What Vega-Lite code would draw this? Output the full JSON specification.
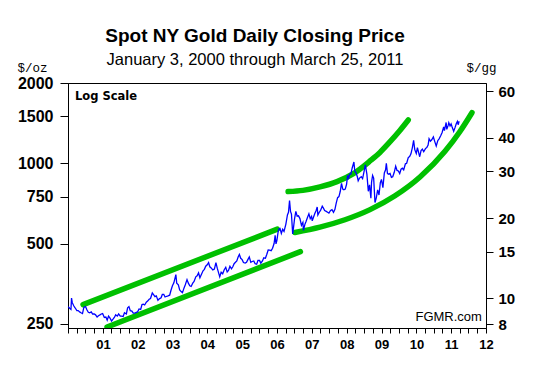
{
  "$schema": "https://vega.github.io/schema/vega-lite/v6.json",
  "width": 418,
  "height": 245,
  "autosize": {"type": "none"},
  "padding": {"left": 68, "top": 83, "right": 61, "bottom": 44},
  "background": "white",
  "config": {"view": {"stroke": "black", "strokeWidth": 1}, "font": "Liberation Sans"},
  "title": {
    "text": "Spot NY Gold Daily Closing Price",
    "subtitle": "January 3, 2000 through March 25, 2011",
    "anchor": "middle", "frame": "group", "dx": -22,
    "font": "Liberation Sans", "fontSize": 19, "fontWeight": "bold", "color": "black",
    "subtitleFont": "Liberation Sans", "subtitleFontSize": 16.5, "subtitleFontWeight": "normal", "subtitleColor": "black",
    "offset": -7, "subtitlePadding": 6
  },
  "datasets": {
    "gold": [
      {"d":"2000-01-03","p":290},{"d":"2000-01-18","p":286},{"d":"2000-02-01","p":283},{"d":"2000-02-07","p":312},{"d":"2000-02-15","p":300},{"d":"2000-03-01","p":292},{"d":"2000-03-15","p":287},{"d":"2000-04-03","p":280},{"d":"2000-04-17","p":280},{"d":"2000-05-02","p":277},{"d":"2000-05-16","p":275},{"d":"2000-06-01","p":273},{"d":"2000-06-15","p":288},{"d":"2000-07-03","p":290},{"d":"2000-07-17","p":282},{"d":"2000-08-01","p":276},{"d":"2000-08-15","p":275},{"d":"2000-09-01","p":277},{"d":"2000-09-15","p":272},{"d":"2000-10-02","p":272},{"d":"2000-10-16","p":270},{"d":"2000-11-01","p":265},{"d":"2000-11-15","p":268},{"d":"2000-12-01","p":270},{"d":"2000-12-15","p":272},{"d":"2000-12-29","p":273},
      {"d":"2001-01-16","p":264},{"d":"2001-02-01","p":265},{"d":"2001-02-15","p":258},{"d":"2001-03-01","p":267},{"d":"2001-03-15","p":263},{"d":"2001-04-02","p":256},{"d":"2001-04-17","p":260},{"d":"2001-05-01","p":264},{"d":"2001-05-15","p":270},{"d":"2001-06-01","p":267},{"d":"2001-06-15","p":272},{"d":"2001-07-02","p":267},{"d":"2001-07-16","p":267},{"d":"2001-08-01","p":266},{"d":"2001-08-15","p":275},{"d":"2001-09-04","p":272},{"d":"2001-09-17","p":287},{"d":"2001-10-01","p":290},{"d":"2001-10-15","p":280},{"d":"2001-11-01","p":279},{"d":"2001-11-15","p":274},{"d":"2001-12-03","p":274},{"d":"2001-12-17","p":276},{"d":"2001-12-31","p":277},
      {"d":"2002-01-15","p":284},{"d":"2002-02-01","p":283},{"d":"2002-02-15","p":295},{"d":"2002-03-01","p":296},{"d":"2002-03-15","p":294},{"d":"2002-04-01","p":301},{"d":"2002-04-15","p":304},{"d":"2002-05-01","p":309},{"d":"2002-05-15","p":311},{"d":"2002-06-03","p":326},{"d":"2002-06-14","p":322},{"d":"2002-07-01","p":316},{"d":"2002-07-15","p":318},{"d":"2002-08-01","p":306},{"d":"2002-08-15","p":310},{"d":"2002-09-03","p":313},{"d":"2002-09-16","p":322},{"d":"2002-10-01","p":322},{"d":"2002-10-15","p":315},{"d":"2002-11-01","p":317},{"d":"2002-11-15","p":318},{"d":"2002-12-02","p":320},{"d":"2002-12-16","p":334},{"d":"2002-12-31","p":347},
      {"d":"2003-01-15","p":356},{"d":"2003-02-05","p":382},{"d":"2003-02-14","p":355},{"d":"2003-03-03","p":350},{"d":"2003-03-17","p":335},{"d":"2003-04-01","p":330},{"d":"2003-04-15","p":327},{"d":"2003-05-01","p":340},{"d":"2003-05-15","p":350},{"d":"2003-06-02","p":366},{"d":"2003-06-16","p":355},{"d":"2003-07-01","p":347},{"d":"2003-07-15","p":345},{"d":"2003-08-01","p":355},{"d":"2003-08-15","p":360},{"d":"2003-09-02","p":375},{"d":"2003-09-16","p":378},{"d":"2003-10-01","p":388},{"d":"2003-10-15","p":372},{"d":"2003-11-03","p":385},{"d":"2003-11-17","p":395},{"d":"2003-12-01","p":400},{"d":"2003-12-15","p":411},{"d":"2003-12-31","p":416},
      {"d":"2004-01-14","p":424},{"d":"2004-01-27","p":409},{"d":"2004-02-10","p":405},{"d":"2004-02-27","p":398},{"d":"2004-03-15","p":401},{"d":"2004-03-31","p":424},{"d":"2004-04-14","p":404},{"d":"2004-05-10","p":375},{"d":"2004-05-25","p":390},{"d":"2004-06-10","p":385},{"d":"2004-06-25","p":398},{"d":"2004-07-12","p":407},{"d":"2004-07-27","p":391},{"d":"2004-08-10","p":396},{"d":"2004-08-25","p":411},{"d":"2004-09-10","p":402},{"d":"2004-09-24","p":409},{"d":"2004-10-08","p":420},{"d":"2004-10-22","p":425},{"d":"2004-11-05","p":430},{"d":"2004-11-19","p":445},{"d":"2004-12-02","p":455},{"d":"2004-12-16","p":440},{"d":"2004-12-31","p":435},
      {"d":"2005-01-14","p":424},{"d":"2005-02-01","p":422},{"d":"2005-02-15","p":425},{"d":"2005-03-01","p":435},{"d":"2005-03-16","p":445},{"d":"2005-04-01","p":425},{"d":"2005-04-15","p":428},{"d":"2005-05-02","p":430},{"d":"2005-05-16","p":420},{"d":"2005-06-01","p":418},{"d":"2005-06-15","p":432},{"d":"2005-07-01","p":432},{"d":"2005-07-15","p":422},{"d":"2005-08-01","p":430},{"d":"2005-08-15","p":442},{"d":"2005-09-01","p":440},{"d":"2005-09-15","p":455},{"d":"2005-09-30","p":473},{"d":"2005-10-14","p":472},{"d":"2005-10-31","p":470},{"d":"2005-11-15","p":480},{"d":"2005-12-01","p":500},{"d":"2005-12-12","p":537},{"d":"2005-12-21","p":498},{"d":"2005-12-30","p":513},
      {"d":"2006-01-13","p":555},{"d":"2006-01-23","p":568},{"d":"2006-02-01","p":570},{"d":"2006-02-15","p":545},{"d":"2006-03-01","p":565},{"d":"2006-03-15","p":555},{"d":"2006-04-03","p":590},{"d":"2006-04-20","p":640},{"d":"2006-05-01","p":655},{"d":"2006-05-12","p":725},{"d":"2006-05-22","p":660},{"d":"2006-06-01","p":645},{"d":"2006-06-14","p":543},{"d":"2006-06-23","p":575},{"d":"2006-07-03","p":617},{"d":"2006-07-17","p":660},{"d":"2006-07-31","p":633},{"d":"2006-08-14","p":635},{"d":"2006-08-29","p":620},{"d":"2006-09-14","p":585},{"d":"2006-09-29","p":600},{"d":"2006-10-05","p":560},{"d":"2006-10-20","p":590},{"d":"2006-11-01","p":605},{"d":"2006-11-15","p":625},{"d":"2006-12-01","p":646},{"d":"2006-12-15","p":620},{"d":"2006-12-29","p":632},
      {"d":"2007-01-05","p":608},{"d":"2007-01-18","p":627},{"d":"2007-02-01","p":648},{"d":"2007-02-15","p":665},{"d":"2007-02-26","p":685},{"d":"2007-03-05","p":640},{"d":"2007-03-20","p":655},{"d":"2007-04-02","p":665},{"d":"2007-04-20","p":690},{"d":"2007-05-01","p":680},{"d":"2007-05-15","p":665},{"d":"2007-06-01","p":660},{"d":"2007-06-15","p":655},{"d":"2007-06-29","p":650},{"d":"2007-07-16","p":665},{"d":"2007-07-31","p":670},{"d":"2007-08-16","p":655},{"d":"2007-08-31","p":672},{"d":"2007-09-14","p":710},{"d":"2007-09-28","p":743},{"d":"2007-10-12","p":750},{"d":"2007-10-26","p":785},{"d":"2007-11-08","p":841},{"d":"2007-11-21","p":800},{"d":"2007-12-03","p":795},{"d":"2007-12-17","p":800},{"d":"2007-12-31","p":834},
      {"d":"2008-01-11","p":900},{"d":"2008-01-22","p":880},{"d":"2008-02-01","p":910},{"d":"2008-02-14","p":910},{"d":"2008-02-28","p":960},{"d":"2008-03-17","p":1011},{"d":"2008-03-26","p":935},{"d":"2008-04-08","p":920},{"d":"2008-04-22","p":890},{"d":"2008-05-01","p":860},{"d":"2008-05-15","p":880},{"d":"2008-06-02","p":890},{"d":"2008-06-16","p":875},{"d":"2008-07-01","p":930},{"d":"2008-07-15","p":986},{"d":"2008-07-31","p":910},{"d":"2008-08-15","p":785},{"d":"2008-08-28","p":830},{"d":"2008-09-11","p":740},{"d":"2008-09-18","p":850},{"d":"2008-09-29","p":900},{"d":"2008-10-10","p":880},{"d":"2008-10-24","p":712},{"d":"2008-11-06","p":740},{"d":"2008-11-21","p":795},{"d":"2008-12-05","p":760},{"d":"2008-12-19","p":845},{"d":"2008-12-31","p":870},
      {"d":"2009-01-15","p":810},{"d":"2009-01-30","p":920},{"d":"2009-02-12","p":945},{"d":"2009-02-20","p":1000},{"d":"2009-03-04","p":915},{"d":"2009-03-18","p":910},{"d":"2009-03-31","p":916},{"d":"2009-04-14","p":885},{"d":"2009-04-28","p":890},{"d":"2009-05-14","p":925},{"d":"2009-05-29","p":975},{"d":"2009-06-12","p":940},{"d":"2009-06-26","p":935},{"d":"2009-07-10","p":915},{"d":"2009-07-24","p":950},{"d":"2009-08-07","p":958},{"d":"2009-08-21","p":945},{"d":"2009-09-08","p":995},{"d":"2009-09-21","p":1000},{"d":"2009-10-08","p":1050},{"d":"2009-10-22","p":1060},{"d":"2009-11-05","p":1085},{"d":"2009-11-20","p":1145},{"d":"2009-12-03","p":1218},{"d":"2009-12-15","p":1125},{"d":"2009-12-31","p":1088},
      {"d":"2010-01-12","p":1145},{"d":"2010-01-28","p":1085},{"d":"2010-02-05","p":1058},{"d":"2010-02-19","p":1115},{"d":"2010-03-05","p":1130},{"d":"2010-03-19","p":1105},{"d":"2010-04-06","p":1135},{"d":"2010-04-20","p":1145},{"d":"2010-05-04","p":1170},{"d":"2010-05-14","p":1235},{"d":"2010-05-28","p":1210},{"d":"2010-06-11","p":1225},{"d":"2010-06-28","p":1255},{"d":"2010-07-13","p":1205},{"d":"2010-07-28","p":1160},{"d":"2010-08-13","p":1215},{"d":"2010-08-27","p":1235},{"d":"2010-09-14","p":1270},{"d":"2010-09-28","p":1305},{"d":"2010-10-14","p":1370},{"d":"2010-10-22","p":1325},{"d":"2010-11-09","p":1422},{"d":"2010-11-16","p":1340},{"d":"2010-12-01","p":1390},{"d":"2010-12-07","p":1420},{"d":"2010-12-20","p":1380},{"d":"2010-12-31","p":1405},
      {"d":"2011-01-10","p":1370},{"d":"2011-01-27","p":1318},{"d":"2011-02-10","p":1360},{"d":"2011-02-24","p":1410},{"d":"2011-03-07","p":1435},{"d":"2011-03-15","p":1395},{"d":"2011-03-25","p":1437}
    ],
    "green": [
      {"seg":"A","d":"2000-06-07","p":295},{"seg":"A","d":"2006-01-04","p":566},
      {"seg":"B","d":"2001-02-13","p":243},{"seg":"B","d":"2006-09-03","p":466},
      {"seg":"C","d":"2006-04-27","p":783},{"seg":"C","d":"2006-09-29","p":791},{"seg":"C","d":"2007-03-27","p":815},{"seg":"C","d":"2007-09-22","p":853},{"seg":"C","d":"2008-03-07","p":912},{"seg":"C","d":"2008-09-02","p":1020},{"seg":"C","d":"2008-12-15","p":1098},{"seg":"C","d":"2009-03-29","p":1202},{"seg":"C","d":"2009-07-12","p":1327},{"seg":"C","d":"2009-10-08","p":1453},
      {"seg":"D","d":"2006-07-07","p":550},{"seg":"D","d":"2007-03-27","p":576},{"seg":"D","d":"2007-12-14","p":614},{"seg":"D","d":"2008-09-02","p":670},{"seg":"D","d":"2009-05-22","p":755},{"seg":"D","d":"2010-02-08","p":888},{"seg":"D","d":"2010-10-28","p":1109},{"seg":"D","d":"2011-04-03","p":1316},{"seg":"D","d":"2011-08-07","p":1548}
    ],
    "note1": [{"d":"2000-03-14","p":1727,"t":"Log Scale"}],
    "note2": [{"d":"2011-11-19","p":255,"t":"FGMR.com"}],
    "gg": [{"g":8},{"g":60}]
  },
  "layer": [
    {
      "encoding": {
        "x": {
          "field": "d", "type": "temporal",
          "scale": {"type": "utc", "domain": [{"year":2000,"month":1,"date":1,"utc":true},{"year":2012,"month":1,"date":1,"utc":true}], "nice": false},
          "axis": {
            "title": null, "grid": false,
            "tickCount": {"interval": "month", "step": 3},
            "labelExpr": "utcmonth(datum.value)==0 && utcyear(datum.value)>2000 ? utcFormat(datum.value,'%y') : ''",
            "labelOverlap": false, "labelFlush": false, "labelBound": false,
            "tickSize": 5, "tickColor": "black", "domainColor": "black",
            "labelFont": "Liberation Sans", "labelFontSize": 13, "labelFontWeight": "bold", "labelColor": "black", "labelPadding": 5
          }
        },
        "y": {
          "field": "p", "type": "quantitative",
          "scale": {"type": "log", "domain": [241, 2000], "nice": false, "zero": false},
          "axis": {
            "title": "$/oz", "titleAngle": 0, "titleX": -36, "titleY": -12, "titleAlign": "center", "titleBaseline": "alphabetic",
            "titleFont": "Liberation Mono", "titleFontSize": 12.5, "titleFontWeight": "normal", "titleColor": "black",
            "values": [250, 500, 750, 1000, 1500, 2000], "format": "d", "grid": false,
            "tickSize": 8, "tickColor": "black", "domainColor": "black",
            "labelFont": "Liberation Sans", "labelFontSize": 16, "labelFontWeight": "bold", "labelColor": "black", "labelPadding": 7
          }
        }
      },
      "layer": [
        {"data": {"name": "green"}, "mark": {"type": "line", "color": "#00c000", "strokeWidth": 5.5, "strokeCap": "round", "interpolate": "monotone", "clip": true}, "encoding": {"detail": {"field": "seg"}}},
        {"data": {"name": "gold"}, "mark": {"type": "line", "color": "#0000ff", "strokeWidth": 1.3}},
        {"data": {"name": "note1"}, "mark": {"type": "text", "font": "DejaVu Sans", "fontSize": 11.5, "fontWeight": "bold", "align": "left", "baseline": "alphabetic", "color": "black"}, "encoding": {"text": {"field": "t"}}},
        {"data": {"name": "note2"}, "mark": {"type": "text", "font": "Liberation Sans", "fontSize": 13, "align": "right", "baseline": "alphabetic", "color": "black"}, "encoding": {"text": {"field": "t"}}}
      ]
    },
    {
      "data": {"name": "gg"},
      "mark": {"type": "point", "opacity": 0},
      "encoding": {
        "y": {
          "field": "g", "type": "quantitative",
          "scale": {"type": "log", "domain": [7.748, 64.30], "nice": false, "zero": false},
          "axis": {
            "orient": "right",
            "title": "$/gg", "titleAngle": 0, "titleX": -5, "titleY": -12, "titleAlign": "center", "titleBaseline": "alphabetic",
            "titleFont": "Liberation Mono", "titleFontSize": 12.5, "titleFontWeight": "normal", "titleColor": "black",
            "values": [8, 10, 15, 20, 30, 40, 60], "format": "d", "grid": false,
            "tickSize": 7, "tickColor": "black", "domainColor": "black",
            "labelFont": "Liberation Sans", "labelFontSize": 15, "labelFontWeight": "bold", "labelColor": "black", "labelPadding": 5
          }
        }
      }
    }
  ],
  "resolve": {"scale": {"y": "independent"}, "axis": {"y": "independent"}}
}
